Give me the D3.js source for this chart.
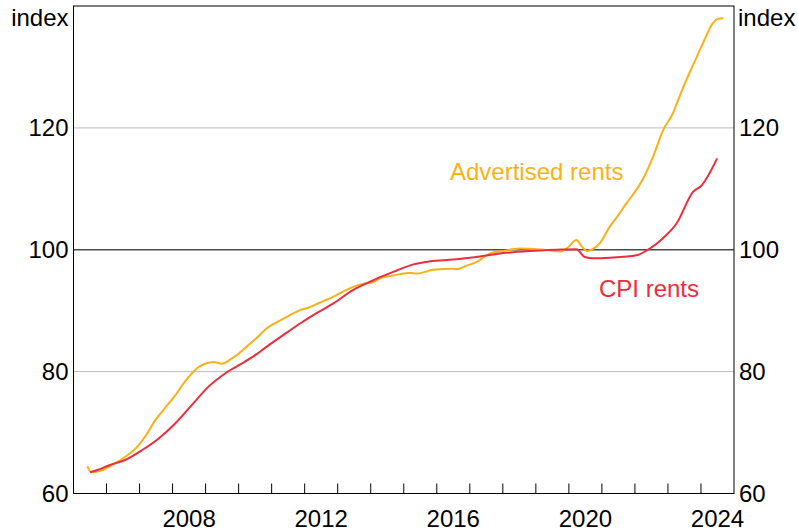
<!DOCTYPE html>
<html>
<head>
<meta charset="utf-8">
<script src="https://cdn.jsdelivr.net/npm/d3@7"></script>
<style>
  body { margin: 0; background: #fff; }
  svg { display: block; font-family: Arial, "Liberation Sans", sans-serif; }
</style>
</head>
<body>
<div id="chart"></div>
<script>
// Advertised rents (index)
const advDates = [2005.42, 2005.53, 2005.86, 2006.2, 2006.56, 2006.97, 2007.2, 2007.47, 2007.75, 2008.08,
  2008.35, 2008.58, 2008.8, 2008.98, 2009.24, 2009.49, 2009.75, 2009.99, 2010.35, 2010.6,
  2010.85, 2011.15, 2011.46, 2011.86, 2012.06, 2012.45, 2012.87, 2013.15, 2013.47, 2013.75,
  2014.08, 2014.28, 2014.6, 2014.88, 2015.19, 2015.39, 2015.89, 2016.5, 2016.6, 2016.9,
  2017.21, 2017.61, 2018.01, 2018.52, 2019.02, 2019.4, 2019.73, 2019.95, 2020.23, 2020.38,
  2020.55, 2020.68, 2020.94, 2021.24, 2021.5, 2021.74, 2022.0, 2022.25, 2022.55, 2022.85,
  2023.15, 2023.31, 2023.56, 2023.81, 2024.06, 2024.36, 2024.52, 2024.67];
const advValues = [64.5, 63.5, 63.8, 64.8, 66.0, 67.9, 69.6, 72.0, 73.9, 76.1,
  78.2, 79.7, 80.8, 81.3, 81.6, 81.3, 82.0, 82.9, 84.6, 85.8,
  87.1, 88.1, 89.0, 90.1, 90.4, 91.3, 92.3, 93.1, 93.9, 94.4,
  94.7, 95.3, 95.7, 96.0, 96.2, 96.1, 96.7, 96.9, 96.8, 97.4,
  98.0, 99.4, 99.8, 100.2, 100.1, 99.9, 99.7, 100.3, 101.6, 100.6,
  99.8, 100.0, 101.1, 103.8, 105.7, 107.6, 109.5, 111.7, 115.3, 119.6,
  122.4, 124.6, 127.9, 130.9, 133.9, 137.2, 137.9, 138.0];

// CPI rents (index)
const cpiDates = [2005.5, 2005.8, 2006.06, 2006.56, 2007.07, 2007.57, 2008.08, 2008.58, 2009.08, 2009.59,
  2010.09, 2010.5, 2010.85, 2011.35, 2011.86, 2012.36, 2012.87, 2013.47, 2014.08, 2014.28,
  2014.79, 2015.29, 2015.79, 2016.5, 2017.31, 2018.11, 2018.82, 2019.63, 2020.23, 2020.48,
  2020.73, 2021.24, 2022.05, 2022.45, 2022.85, 2023.26, 2023.76, 2024.01, 2024.49];
const cpiValues = [63.5, 64.0, 64.6, 65.5, 67.1, 69.0, 71.5, 74.5, 77.5, 79.7,
  81.3, 82.7, 84.1, 86.0, 87.9, 89.6, 91.2, 93.4, 95.0, 95.5,
  96.6, 97.6, 98.1, 98.4, 98.9, 99.5, 99.8, 100.0, 100.1, 98.8,
  98.6, 98.7, 99.1, 100.2, 101.9, 104.3, 109.5, 110.5, 115.0];

const yTicks = [60, 80, 100, 120];
const yearTicks = d3.range(2006, 2025);
const yearLabels = [2008, 2012, 2016, 2020, 2024];

const width = 798, height = 531;
const margin = { left: 73.5, right: 64, top: 6, bottom: 37.5 };
const x0 = margin.left, x1 = width - margin.right;
const y0 = height - margin.bottom, y1 = margin.top;

const x = d3.scaleLinear().domain([2005, 2025]).range([x0, x1]);
const y = d3.scaleLinear().domain([60, 140]).range([y0, y1]);

const svg = d3.select("#chart").append("svg").attr("width", width).attr("height", height);

// gridlines
svg.append("g").selectAll("line").data([80, 120]).join("line")
  .attr("x1", x0).attr("x2", x1).attr("y1", (d) => y(d)).attr("y2", (d) => y(d))
  .attr("stroke", "#bdbdbd").attr("stroke-width", 1);
svg.append("line").attr("x1", x0).attr("x2", x1).attr("y1", y(100)).attr("y2", y(100))
  .attr("stroke", "#4a4a4a").attr("stroke-width", 1.5);

// year ticks (inward)
svg.append("g").selectAll("line").data(yearTicks).join("line")
  .attr("x1", (d) => x(d)).attr("x2", (d) => x(d)).attr("y1", y0).attr("y2", y0 - 10)
  .attr("stroke", "#000").attr("stroke-width", 1);

// series
const line = d3.line().x((d) => x(d[0])).y((d) => y(d[1])).curve(d3.curveMonotoneX);
const series = [
  { dates: advDates, values: advValues, color: "#fbb116" },
  { dates: cpiDates, values: cpiValues, color: "#ee2c3c" }
];
svg.append("g").selectAll("path").data(series).join("path")
  .attr("d", (d) => line(d.dates.map((t, i) => [t, d.values[i]])))
  .attr("fill", "none").attr("stroke", (d) => d.color).attr("stroke-width", 2)
  .attr("stroke-linejoin", "round");

// frame
svg.append("rect").attr("x", x0).attr("y", y1).attr("width", x1 - x0).attr("height", y0 - y1)
  .attr("fill", "none").attr("stroke", "#000").attr("stroke-width", 1);

// y labels
const fs = 24;
svg.append("g").selectAll("text").data(yTicks).join("text")
  .attr("x", x0 - 5).attr("y", (d) => y(d)).attr("dy", "0.35em").attr("text-anchor", "end")
  .attr("font-size", fs).text((d) => d);
svg.append("g").selectAll("text").data(yTicks).join("text")
  .attr("x", x1 + 5).attr("y", (d) => y(d)).attr("dy", "0.35em").attr("text-anchor", "start")
  .attr("font-size", fs).text((d) => d);
svg.append("text").attr("x", x0 - 5).attr("y", 26).attr("text-anchor", "end")
  .attr("font-size", fs).text("index");
svg.append("text").attr("x", x1 + 4).attr("y", 26).attr("text-anchor", "start")
  .attr("font-size", fs).text("index");

// x labels, centred in the year
svg.append("g").selectAll("text").data(yearLabels).join("text")
  .attr("x", (d) => x(d + 0.5)).attr("y", 527).attr("text-anchor", "middle")
  .attr("font-size", fs).text((d) => d);

// series labels
svg.append("text").attr("x", 450).attr("y", 180)
  .attr("font-size", fs).attr("fill", "#fbb116").text("Advertised rents");
svg.append("text").attr("x", 599).attr("y", 297)
  .attr("font-size", fs).attr("fill", "#ee2c3c").text("CPI rents");
</script>
</body>
</html>
